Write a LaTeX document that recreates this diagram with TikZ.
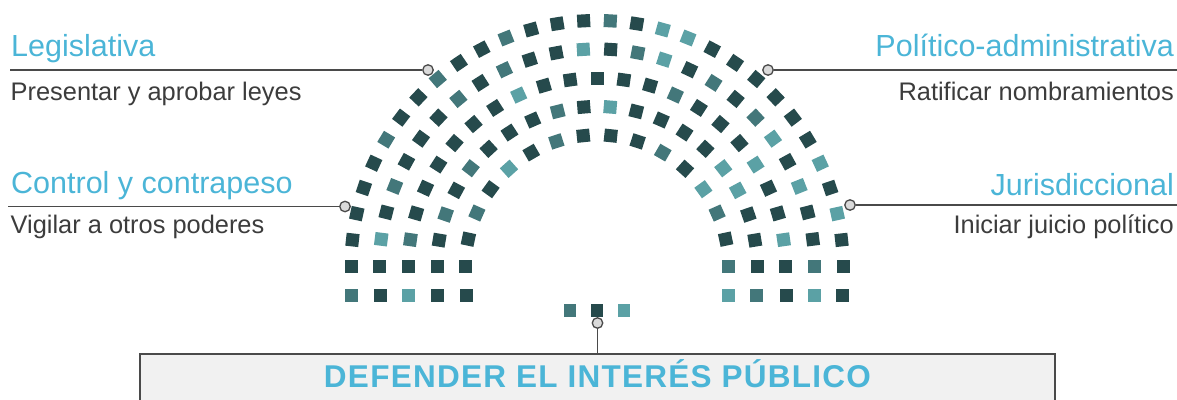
\documentclass[tikz,border=0pt]{standalone}
\usepackage{fontspec}
\setmainfont{Liberation Sans}
\newfontfamily\titlefont[LetterSpace=4]{Liberation Sans}
\definecolor{seatD}{HTML}{264A4C}
\definecolor{seatM}{HTML}{43777A}
\definecolor{seatL}{HTML}{5BA1A5}
\definecolor{headblue}{HTML}{4BB5D7}
\definecolor{subgray}{HTML}{3C3C3C}
\definecolor{linegray}{HTML}{4A4A4A}
\definecolor{dotfill}{HTML}{DADADA}
\definecolor{boxfill}{HTML}{F1F1F1}
\tikzset{
  seat/.style={minimum size=13pt, inner sep=0pt, outer sep=0pt, fill=seat#1},
  head/.style={inner sep=0pt, text=headblue, font=\fontsize{30.5}{36}\selectfont},
  sub/.style={inner sep=0pt, text=subgray, font=\fontsize{25.4}{30}\selectfont},
  conn/.style={draw=linegray, line width=1.4pt},
  dot/.style={circle, draw=linegray, fill=dotfill, line width=1.3pt, minimum size=10.5pt, inner sep=0pt},
  titlebox/.style={draw=linegray, fill=boxfill, line width=1.4pt, minimum width=915pt, minimum height=60pt, inner sep=0pt},
  titletext/.style={inner sep=0pt, text=headblue, font=\titlefont\bfseries\fontsize{31.5}{36}\selectfont}
}
\newcommand\seatrow[4]{%
  \foreach \c [count=\i from 0] in {#4} {%
    \pgfmathsetmacro\ang{180-\i*180/(#3-1)}%
    \node[seat=\c, rotate=\ang] (#1-\i) at ({597+#2*cos(\ang)}, {266.5-#2*sin(\ang)}) {};
  }%
}
\begin{document}
\begin{tikzpicture}[x=1pt, y=-1pt]
\useasboundingbox (0,0) rectangle (1177,399);
% hemicycle
\seatrow{ra}{246}{30}{D,D,D,D,D,M,D,D,M,D,D,M,D,D,D,M,D,L,L,D,D,D,D,D,D,L,D,L,D,D}
\seatrow{rb}{217.5}{26}{D,L,D,M,D,D,D,M,D,M,D,D,L,D,M,L,D,M,D,M,L,D,L,D,D,M}
\seatrow{rc}{188.5}{23}{D,M,D,D,D,D,D,D,L,D,D,D,D,D,M,D,D,D,L,D,D,L,D}
\seatrow{rd}{160}{20}{D,D,M,D,M,D,D,D,M,D,L,D,D,D,D,L,L,D,D,D}
\seatrow{re}{131.5}{16}{D,D,M,D,L,D,M,D,D,D,M,D,L,M,D,M}
% straight rows below
\foreach \xx/\c [count=\i] in {351/M,380/D,408.5/L,437/D,466/D} {
  \node[seat=\c] (xl-\i) at (\xx,295.5) {};
}
\foreach \xx/\c [count=\i] in {728/L,756.5/M,786/D,814.5/L,842.5/D} {
  \node[seat=\c] (xr-\i) at (\xx,295.5) {};
}
% bottom seats
\node[seat=M, minimum width=12.5pt, minimum height=13pt] (b1) at (570,310) {};
\node[seat=D, minimum width=12.5pt, minimum height=13pt] (b2) at (597,310) {};
\node[seat=L, minimum width=12.5pt, minimum height=13pt] (b3) at (624,310) {};
% labels
\node[head, anchor=base west] (h1) at (11,56.7) {Legislativa};
\node[sub, anchor=base west] (s1) at (10.5,100) {Presentar y aprobar leyes};
\node[head, anchor=base west] (h2) at (11,193.3) {Control y contrapeso};
\node[sub, anchor=base west] (s2) at (10.5,233) {Vigilar a otros poderes};
\node[head, anchor=base east] (h3) at (1174,56.7) {Político-administrativa};
\node[sub, anchor=base east] (s3) at (1174,100) {Ratificar nombramientos};
\node[head, anchor=base east] (h4) at (1174,195) {Jurisdiccional};
\node[sub, anchor=base east] (s4) at (1174,233) {Iniciar juicio político};
% connectors
\node[dot] (c1) at (428,70) {};
\node[dot] (c2) at (768,70) {};
\node[dot] (c3) at (345,206.5) {};
\node[dot] (c4) at (850,205) {};
\node[dot] (c5) at (597.5,323) {};
\coordinate (e1) at (10,70);
\coordinate (e2) at (1177,70);
\coordinate (e3) at (8,206.5);
\coordinate (e4) at (1177,205);
\draw[conn] (e1) -- (c1);
\draw[conn] (c2) -- (e2);
\draw[conn] (e3) -- (c3);
\draw[conn] (c4) -- (e4);
% title box
\node[titlebox] (tb) at (597.5,384) {};
\draw[conn] (c5) -- (c5 |- tb.north);
\node[titletext, anchor=base] (tt) at (597.5,387) {DEFENDER EL INTERÉS PÚBLICO};
\end{tikzpicture}
\end{document}
